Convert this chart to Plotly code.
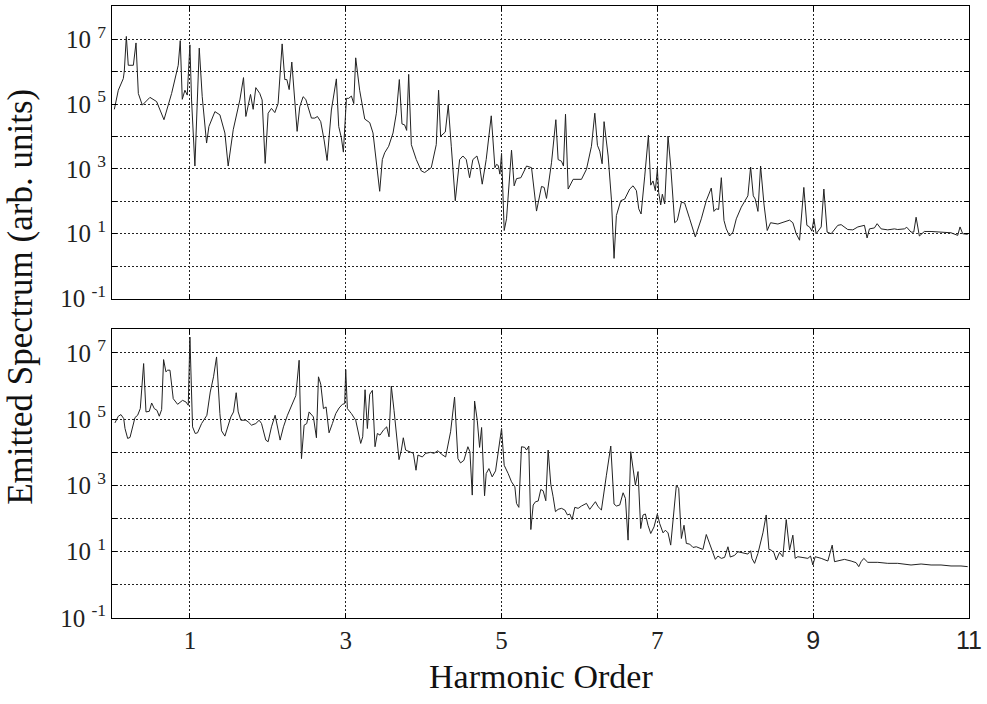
import numpy as np
import plotly.graph_objects as go

# ---------------- data ----------------
# Upper panel: harmonic order and log10 of emitted spectrum
top_order = [0.030, 0.081, 0.145, 0.158, 0.184, 0.209, 0.274, 0.308, 0.338, 0.389,
             0.487, 0.573, 0.667, 0.765, 0.850, 0.876, 0.902, 0.936, 0.966, 1.000,
             1.021, 1.064, 1.120, 1.158, 1.214, 1.244, 1.321, 1.385, 1.449, 1.491,
             1.556, 1.641, 1.688, 1.718, 1.778, 1.812, 1.846, 1.897, 1.927, 1.966,
             2.004, 2.047, 2.090, 2.132, 2.184, 2.218, 2.244, 2.274, 2.308, 2.338,
             2.376, 2.410, 2.453, 2.487, 2.517, 2.560, 2.603, 2.637, 2.679, 2.722,
             2.761, 2.816, 2.880, 2.910, 2.944, 2.970, 3.009, 3.038, 3.073, 3.103,
             3.128, 3.179, 3.244, 3.308, 3.350, 3.393, 3.436, 3.470, 3.500, 3.551,
             3.607, 3.650, 3.688, 3.722, 3.756, 3.782, 3.808, 3.842, 3.906, 3.970,
             4.013, 4.098, 4.162, 4.192, 4.218, 4.278, 4.316, 4.355, 4.406, 4.462,
             4.504, 4.547, 4.590, 4.632, 4.684, 4.718, 4.752, 4.803, 4.868, 4.915,
             4.936, 4.957, 4.979, 5.000, 5.034, 5.064, 5.128, 5.162, 5.192, 5.248,
             5.321, 5.385, 5.449, 5.513, 5.547, 5.577, 5.641, 5.697, 5.726, 5.769,
             5.795, 5.821, 5.855, 5.919, 6.026, 6.090, 6.154, 6.197, 6.231, 6.261,
             6.291, 6.316, 6.368, 6.410, 6.444, 6.474, 6.530, 6.581, 6.645, 6.688,
             6.731, 6.761, 6.791, 6.838, 6.885, 6.915, 6.944, 6.974, 7.000, 7.017,
             7.043, 7.064, 7.094, 7.137, 7.171, 7.222, 7.256, 7.308, 7.350, 7.415,
             7.487, 7.564, 7.628, 7.692, 7.726, 7.756, 7.786, 7.821, 7.855, 7.885,
             7.927, 7.970, 8.013, 8.077, 8.162, 8.197, 8.231, 8.256, 8.291, 8.325,
             8.368, 8.410, 8.453, 8.547, 8.632, 8.697, 8.739, 8.782, 8.825, 8.880,
             8.919, 8.953, 8.983, 9.009, 9.038, 9.103, 9.137, 9.179, 9.231, 9.316,
             9.359, 9.444, 9.509, 9.573, 9.658, 9.692, 9.722, 9.786, 9.821, 9.872,
             9.957, 10.043, 10.085, 10.171, 10.201, 10.256, 10.291, 10.321, 10.363, 10.427,
             10.513, 10.641, 10.769, 10.855, 10.885, 10.919, 10.983]
top_log10 = [4.84, 5.43, 5.79, 6.02, 7.09, 6.20, 6.20, 6.89, 5.33, 4.97,
             5.21, 5.08, 4.52, 5.33, 6.20, 6.96, 5.15, 5.43, 5.28, 6.83,
             5.13, 3.09, 6.73, 5.23, 3.80, 4.31, 4.77, 4.67, 4.11, 3.09,
             4.21, 5.13, 5.82, 4.62, 5.30, 4.84, 5.51, 5.33, 5.13, 3.17,
             4.72, 4.87, 4.74, 5.02, 6.86, 5.76, 5.76, 5.45, 6.30, 5.43,
             4.16, 4.92, 5.23, 5.15, 4.92, 4.57, 4.57, 4.62, 4.46, 3.90,
             3.26, 4.82, 5.78, 4.31, 3.96, 3.52, 5.18, 5.18, 5.25, 5.02,
             6.43, 5.43, 4.54, 4.43, 4.11, 3.19, 2.31, 3.29, 3.50, 3.70,
             4.11, 4.72, 5.76, 4.39, 4.36, 4.19, 5.92, 3.75, 3.29, 2.94,
             2.89, 3.04, 3.75, 5.43, 4.01, 4.14, 4.97, 3.70, 2.02, 3.29,
             3.40, 3.29, 2.73, 3.29, 3.40, 3.09, 2.53, 3.29, 4.64, 3.04,
             3.14, 3.11, 2.84, 3.48, 1.10, 1.46, 3.58, 2.48, 2.70, 2.73,
             3.09, 3.04, 1.70, 2.46, 2.43, 2.09, 3.19, 4.52, 3.29, 3.24,
             3.09, 4.69, 2.38, 2.68, 2.68, 2.99, 3.70, 4.72, 3.73, 3.55,
             3.16, 4.46, 3.40, 2.07, 0.24, 1.56, 2.02, 2.07, 2.38, 2.48,
             2.33, 1.77, 1.61, 2.78, 4.04, 2.50, 2.63, 2.33, 2.99, 2.27,
             1.89, 2.22, 1.92, 4.01, 3.09, 1.34, 1.41, 1.97, 1.95, 1.46,
             0.90, 1.46, 2.02, 2.41, 1.69, 1.77, 1.75, 2.73, 1.41, 1.15,
             0.93, 1.05, 1.46, 1.82, 2.17, 3.06, 2.17, 2.07, 1.69, 3.09,
             1.92, 1.10, 1.34, 1.30, 1.36, 1.42, 1.34, 1.00, 0.80, 2.43,
             1.26, 1.21, 1.08, 1.46, 1.00, 1.21, 2.38, 1.05, 1.00, 1.26,
             1.28, 1.13, 1.12, 1.21, 1.26, 0.87, 1.15, 1.18, 1.31, 1.15,
             1.12, 1.15, 1.13, 1.15, 1.20, 1.05, 1.05, 1.51, 0.93, 1.07,
             1.07, 1.05, 1.03, 0.95, 1.21, 1.00, 0.98]

# Lower panel
bot_order = [0.038, 0.081, 0.115, 0.150, 0.167, 0.201, 0.231, 0.265, 0.295, 0.329,
             0.363, 0.406, 0.436, 0.479, 0.509, 0.543, 0.577, 0.607, 0.637, 0.662,
             0.692, 0.714, 0.744, 0.786, 0.842, 0.906, 0.949, 0.979, 1.000, 1.034,
             1.068, 1.098, 1.150, 1.218, 1.261, 1.303, 1.342, 1.385, 1.406, 1.449,
             1.526, 1.560, 1.594, 1.620, 1.654, 1.718, 1.748, 1.791, 1.846, 1.889,
             1.919, 1.974, 2.004, 2.047, 2.094, 2.158, 2.201, 2.252, 2.295, 2.359,
             2.402, 2.432, 2.466, 2.500, 2.530, 2.585, 2.624, 2.650, 2.679, 2.714,
             2.748, 2.786, 2.829, 2.872, 2.915, 2.957, 2.987, 3.000, 3.021, 3.073,
             3.128, 3.158, 3.192, 3.218, 3.248, 3.278, 3.308, 3.342, 3.376, 3.406,
             3.440, 3.483, 3.526, 3.556, 3.585, 3.620, 3.662, 3.684, 3.714, 3.739,
             3.769, 3.812, 3.868, 3.902, 3.927, 3.983, 4.026, 4.090, 4.132, 4.184,
             4.226, 4.282, 4.346, 4.397, 4.440, 4.474, 4.517, 4.568, 4.594, 4.624,
             4.654, 4.688, 4.718, 4.744, 4.782, 4.803, 4.838, 4.880, 4.923, 5.000,
             5.034, 5.085, 5.128, 5.171, 5.192, 5.222, 5.256, 5.299, 5.321, 5.350,
             5.376, 5.406, 5.436, 5.470, 5.504, 5.534, 5.568, 5.598, 5.632, 5.662,
             5.692, 5.726, 5.769, 5.812, 5.846, 5.876, 5.906, 5.940, 5.983, 6.026,
             6.090, 6.132, 6.175, 6.205, 6.239, 6.282, 6.346, 6.402, 6.444, 6.474,
             6.517, 6.560, 6.590, 6.624, 6.658, 6.688, 6.718, 6.752, 6.786, 6.816,
             6.846, 6.880, 6.915, 6.957, 7.000, 7.030, 7.073, 7.103, 7.137, 7.171,
             7.222, 7.244, 7.274, 7.308, 7.342, 7.372, 7.415, 7.457, 7.500, 7.543,
             7.585, 7.628, 7.671, 7.714, 7.744, 7.778, 7.821, 7.863, 7.906, 7.936,
             7.991, 8.034, 8.098, 8.162, 8.197, 8.214, 8.248, 8.291, 8.355, 8.397,
             8.432, 8.462, 8.496, 8.526, 8.568, 8.611, 8.654, 8.697, 8.739, 8.769,
             8.803, 8.868, 8.932, 8.966, 8.996, 9.026, 9.103, 9.188, 9.244, 9.274,
             9.338, 9.402, 9.487, 9.551, 9.585, 9.615, 9.650, 9.701, 9.829, 9.957,
             10.085, 10.214, 10.256, 10.385, 10.513, 10.641, 10.769, 10.897, 10.983]
bot_log10 = [4.89, 5.09, 5.14, 5.02, 4.72, 4.42, 4.45, 4.77, 5.05, 5.12,
             5.32, 6.68, 5.22, 5.24, 5.49, 5.32, 5.27, 5.09, 5.29, 6.80,
             6.43, 6.48, 6.48, 5.62, 5.45, 5.57, 5.52, 5.42, 7.48, 4.77,
             4.57, 4.59, 4.87, 5.12, 5.82, 6.28, 6.88, 5.17, 4.65, 4.49,
             5.07, 5.22, 5.80, 5.22, 4.97, 4.97, 4.92, 4.82, 4.87, 4.97,
             4.87, 4.37, 4.32, 4.77, 5.12, 4.37, 4.77, 5.12, 5.37, 5.71,
             6.78, 3.81, 4.82, 4.87, 5.22, 5.07, 4.44, 6.28, 6.06, 5.32,
             5.37, 4.59, 4.87, 5.17, 5.34, 5.45, 5.47, 6.50, 5.32, 5.17,
             4.97, 4.67, 4.27, 4.47, 5.89, 4.72, 5.75, 5.87, 4.17, 4.57,
             4.52, 4.67, 4.77, 4.47, 6.00, 5.27, 4.27, 3.78, 4.07, 4.44,
             4.07, 4.02, 3.97, 3.46, 3.92, 3.86, 3.97, 4.00, 3.97, 4.05,
             3.95, 3.86, 4.62, 5.67, 3.81, 3.68, 3.76, 4.17, 4.02, 2.71,
             5.55, 4.97, 4.15, 4.75, 2.69, 3.36, 3.51, 3.26, 3.44, 4.72,
             3.61, 3.36, 3.11, 2.96, 2.46, 2.34, 4.17, 4.15, 4.07, 4.19,
             1.67, 2.41, 2.51, 2.53, 2.88, 2.84, 2.54, 4.07, 3.04, 2.66,
             2.21, 2.28, 2.31, 2.26, 2.11, 2.14, 1.97, 2.34, 2.31, 2.38,
             2.46, 2.28, 2.41, 2.51, 2.36, 2.26, 3.31, 4.19, 2.44, 2.38,
             2.41, 2.78, 2.61, 1.35, 4.02, 3.46, 3.01, 3.42, 1.70, 2.11,
             2.14, 1.80, 1.55, 1.75, 2.14, 1.85, 1.57, 1.65, 1.57, 1.20,
             2.58, 3.01, 2.91, 1.40, 1.80, 1.25, 1.23, 1.13, 1.15, 1.12,
             1.07, 1.52, 1.25, 1.00, 0.77, 0.87, 0.80, 0.83, 1.15, 0.84,
             0.89, 1.00, 0.97, 0.93, 1.03, 0.80, 0.65, 0.95, 1.57, 2.11,
             1.07, 1.05, 0.97, 0.75, 0.98, 0.85, 1.97, 1.05, 1.50, 0.80,
             0.85, 0.83, 0.80, 0.87, 0.60, 0.85, 0.80, 0.72, 1.20, 0.70,
             0.73, 0.77, 0.72, 0.67, 0.55, 0.70, 0.80, 0.68, 0.68, 0.65,
             0.65, 0.61, 0.60, 0.63, 0.60, 0.60, 0.57, 0.57, 0.55]

x_tick_vals = [1, 3, 5, 7, 9, 11]
x_tick_text = ["1", "3", "5", "7",
               '<span style="font-family:Liberation Sans">9</span>',
               '<span style="font-family:Liberation Sans">11</span>']
y_label_exponents = [-1, 1, 3, 5, 7]
y_minor_exponents = [0, 2, 4, 6]

# ---------------- figure ----------------
SERIF = "Liberation Serif"
y_tick_vals = [10.0 ** e for e in y_label_exponents]
y_tick_text = ["10\u00a0<sup>%d</sup>" % e for e in y_label_exponents]
y_minor_vals = [10.0 ** e for e in y_minor_exponents]

fig = go.Figure()
fig.add_trace(go.Scatter(x=top_order, y=np.power(10.0, top_log10), mode="lines",
                         line=dict(color="#222222", width=1), xaxis="x", yaxis="y",
                         showlegend=False))
fig.add_trace(go.Scatter(x=bot_order, y=np.power(10.0, bot_log10), mode="lines",
                         line=dict(color="#222222", width=1), xaxis="x2", yaxis="y2",
                         showlegend=False))

GRID = dict(showgrid=True, gridcolor="#222222", griddash="2px,2px", gridwidth=1)
common_x = dict(range=[0, 11], tickvals=x_tick_vals, **GRID,
                showline=True, linecolor="#000000", linewidth=1,
                mirror="ticks", ticks="inside", ticklen=5, tickcolor="#000000", zeroline=False)
common_y = dict(type="log", tickvals=y_tick_vals, ticktext=y_tick_text, **GRID,
                showline=True, linecolor="#000000", linewidth=1, mirror="ticks",
                ticks="inside", ticklen=5, tickcolor="#000000", zeroline=False,
                minor=dict(tickvals=y_minor_vals, ticks="inside", ticklen=5,
                           tickcolor="#000000", showgrid=True, gridcolor="#222222",
                           griddash="2px,2px", gridwidth=1),
                tickfont=dict(family=SERIF, size=25, color="#222222"))

fig.update_layout(
    width=987, height=704,
    margin=dict(l=112, r=16, t=5, b=86),
    paper_bgcolor="white", plot_bgcolor="white",
    font=dict(family=SERIF, color="#222222"),
    xaxis=dict(**common_x, anchor="y", showticklabels=False),
    yaxis=dict(**common_y, domain=[0.522, 1.0], range=[-1.0, 8.03], anchor="x"),
    xaxis2=dict(**common_x, anchor="y2", ticktext=x_tick_text,
                tickfont=dict(family=SERIF, size=25, color="#222222")),
    yaxis2=dict(**common_y, domain=[0.0, 0.4715], range=[-1.0, 7.71], anchor="x2"),
    annotations=[
        dict(text="Emitted Spectrum (arb. units)", xref="paper", yref="paper",
             x=-0.106, y=0.525, textangle=-90, showarrow=False, xanchor="center",
             yanchor="middle", font=dict(family=SERIF, size=35, color="#111111")),
        dict(text="Harmonic Order", xref="paper", yref="paper", x=0.5, y=-0.096,
             showarrow=False, xanchor="center", yanchor="middle",
             font=dict(family=SERIF, size=34, color="#111111")),
    ],
)

fig.write_html("out.html")
